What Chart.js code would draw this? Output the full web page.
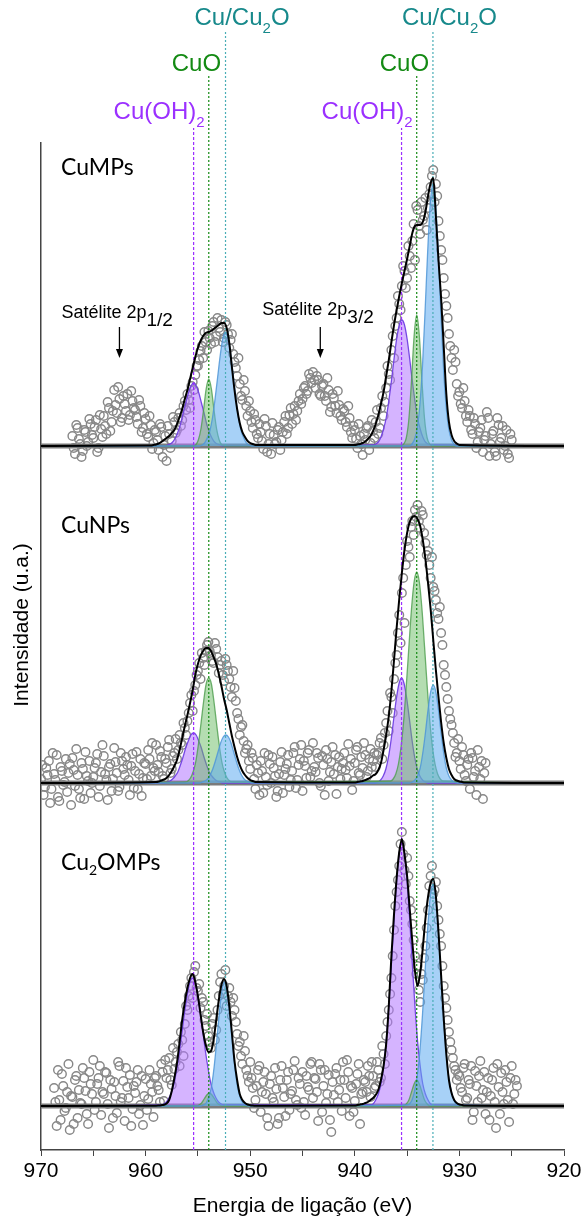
<!DOCTYPE html>
<html>
<head>
<meta charset="utf-8">
<script src="https://cdn.jsdelivr.net/npm/chart.js@4.4.1/dist/chart.umd.min.js"></script>
<style>
  html, body { margin: 0; padding: 0; background: #fff; }
  #xps { display: block; }
</style>
</head>
<body>
<canvas id="xps" width="581" height="1220" style="width:581px;height:1220px"></canvas>
<script>
// Cu 2p XPS spectra, three stacked samples, intensities in a.u. above each baseline
const eStep = 0.25
const panelNames = ['CuMPs', 'CuNPs', 'Cu2OMPs']
const panelBase = [704, 367, 44]
const tickLabels = [970, 960, 950, 940, 930, 920]

// reference binding energies (eV) for 2p1/2 and 2p3/2
const cuOH2Lines = [955.41, 935.53]
const cuOLines = [953.96, 934.08]
const cuLines = [952.36, 932.53]
const satelliteE = [962.5, 943.3]

// measured points: two interleaved scans (start energy, then one value every 0.25 eV going down)
const cumpsStart = [967.0, 966.875]
const cumpsCounts = [
  10, -8, 18, 2, -5, 14, 4, 22, 8, 26, -2, 17, 30, 12, 38, 24,
  56, 33, 47, 28, 42, 52, 31, 45, 36, 22, 40, 18, 27, 9, 21, 3,
  14, -4, 19, 1, -15, 12, 5, 24, 16, 33, 26, 45, 52, 38, 64, 71,
  80, 95, 88, 104, 115, 102, 124, 110, 118, 126, 108, 121, 98, 112, 84, 70,
  62, 46, 55, 30, 35, 18, 26, 8, 14, -3, 20, 2, -8, 11, 4, 19,
  6, 24, 12, 31, 22, 40, 35, 52, 47, 60, 55, 68, 74, 58, 66, 50,
  62, 45, 56, 39, 48, 33, 41, 26, 35, 19, 28, 8, 16, -2, 10, -9,
  6, 20, 3, 15, 24, 12, 38, 30, 58, 72, 96, 88, 128, 142, 160, 175,
  168, 190, 205, 186, 236, 212, 226, 248, 238, 259, 276, 262, 225, 196, 168, 140,
  112, 88, 96, 62, 54, 38, 45, 24, 30, 12, 22, 4, 18, -6, 10, 28,
  2, 15, -10, 21, 8, -4, 16, -12, 6
]
const cumpsCounts2 = [
  -2, 21, 7, -11, 16, 0, 27, 11, 19, -6, 31, 9, 20, 44, 15, 35,
  41, 59, 24, 50, 35, 26, 55, 38, 29, 46, 14, 33, 12, 30, -3, 16,
  6, 22, -11, 10, 20, -2, 29, 13, 28, 20, 40, 36, 46, 60, 56, 80,
  86, 100, 114, 96, 108, 120, 104, 128, 114, 104, 124, 112, 106, 92, 78, 88,
  50, 66, 40, 45, 24, 32, 12, 22, 5, 27, -6, 12, 23, 2, 16, -4,
  14, 30, 18, 38, 32, 26, 45, 42, 58, 52, 72, 63, 66, 70, 52, 60,
  50, 68, 34, 52, 40, 55, 30, 37, 24, 40, 14, 20, 7, 22, 2, 12,
  18, -4, 26, 8, 36, 18, 50, 44, 80, 66, 110, 120, 150, 136, 180, 158,
  200, 178, 222, 240, 220, 244, 230, 216, 252, 270, 244, 250, 210, 186, 152, 128,
  100, 76, 84, 50, 42, 58, 30, 36, 16, 28, -2, 14, 26, 6, 34, -10,
  12, -6, 28, 4, 20, 0, -8, 12
]
const cunpsStart = [970.0, 969.875]
const cunpsCounts = [
  4, -12, 15, 22, -6, 9, 28, -18, 12, 1, -9, 19, 25, -3, 8, -15,
  14, 31, 2, -10, 6, 20, -14, 11, 27, 3, 16, -8, 35, 10, -4, 22,
  8, 18, -12, 29, 12, -6, 24, 5, 19, 33, 7, 15, 38, 11, 26, 4,
  20, 43, 14, 30, 24, 48, 38, 55, 62, 80, 72, 98, 112, 104, 125, 132,
  141, 128, 120, 134, 110, 122, 102, 118, 104, 86, 95, 70, 48, 58, 30, 38,
  14, 25, -6, 10, 22, -10, 6, 28, 0, 15, -14, 9, 31, 8, 19, -4,
  12, 36, 3, 24, -8, 17, 30, 6, 40, 11, 25, -3, 18, 33, 2, 21,
  9, -11, 26, 14, 30, 5, 17, -7, 20, 36, 8, 15, 28, 12, 34, 22,
  16, 30, 45, 38, 60, 52, 86, 104, 128, 168, 190, 160, 242, 226, 262, 273,
  278, 255, 268, 240, 232, 205, 196, 183, 164, 150, 118, 96, 72, 58, 40, 30,
  22, 36, 8, 18, -6, 25, 12, 33, 4, -16, 20
]
const cunpsCounts2 = [
  18, -4, 8, -20, 30, 3, -14, 16, -2, 24, 10, -22, 13, 34, -6, 20,
  -16, 7, 22, 0, 15, 29, -3, 38, 9, -17, 19, 4, 21, -8, 30, 14,
  26, 3, 17, -5, 31, 9, -13, 20, 4, 24, 40, 12, 18, 32, 7, 24,
  36, 10, 27, 44, 33, 40, 60, 48, 70, 88, 92, 108, 120, 130, 118, 138,
  132, 122, 140, 126, 118, 108, 124, 112, 96, 112, 82, 64, 56, 42, 34, 22,
  30, 4, 18, -12, 12, 30, -2, 19, 26, 7, -8, 21, -10, 14, 28, 3,
  30, -5, 18, 38, 22, 5, 33, 12, 16, 30, 0, 27, -12, 24, 11, 36,
  28, 16, 4, 20, 13, 39, 24, 2, 33, 10, 26, 40, 6, 24, 16, 30,
  28, 40, 24, 50, 72, 90, 70, 120, 150, 140, 205, 218, 236, 256, 248, 266,
  262, 272, 250, 228, 218, 226, 192, 170, 176, 138, 108, 84, 64, 50, 26, 44,
  14, 28, 2, 24, 30, 6, -12, 16, 22, 10
]
const cu2oStart = [968.75, 968.625]
const cu2oCounts = [
  18, -20, 6, 32, -5, 14, -24, 9, 26, -12, 3, 38, 15, -18, 22,
  46, 4, 28, -9, 12, 33, -22, 17, 24, -7, 40, 8, -15, 19, 31, -3,
  13, 36, 1, -19, 27, 7, 22, -11, 30, 16, 42, 5, 28, 48, 21, 37,
  54, 40, 66, 82, 96, 120, 108, 140, 115, 98, 104, 80, 70, 58, 88, 76,
  110, 132, 120, 100, 118, 90, 96, 72, 64, 42, 55, 30, 44, 18, 6, 36,
  -6, 24, 12, -20, 30, 4, 17, -12, 40, 9, 26, -4, 15, 45, 1, 22,
  34, -9, 19, 42, 8, 27, -15, 36, 20, 3, 31, -26, 11, 38, 16, -5,
  26, 46, -10, 18, 5, 32, -18, 14, 24, 40, 9, 30, 20, 36, 28, 52,
  70, 96, 128, 176, 214, 240, 274, 236, 248, 205, 182, 150, 140, 104, 126, 160,
  196, 230, 212, 224, 186, 160, 120, 98, 74, 56, 40, 26, 30, 14, 42, 8,
  22, -14, 35, 4, 45, 16, -8, 28, 10, 38, -22, 19, 33, 2, 24, -16,
  40, 12, 20
]
const cu2oCounts2 = [
  4, 36, -14, 20, -2, 42, 10, -18, 30, 16, 2, 28, -8, 34, 12,
  -4, 22, 40, 14, 34, 2, 26, -12, 10, 44, 4, 25, 38, 8, -20, 20,
  24, -8, 30, 10, -4, 36, 14, 28, 20, 4, 34, 46, 36, 26, 58, 44,
  62, 74, 50, 100, 110, 128, 134, 118, 122, 108, 86, 92, 64, 82, 66, 96,
  124, 112, 136, 110, 104, 108, 84, 60, 50, 70, 36, 24, 28, -2, 20, 40,
  14, 34, -12, 22, 8, 38, -18, 26, 18, -10, 34, 12, 36, 6, 28, -2,
  4, 30, 16, 44, 28, 14, 42, -6, 36, 12, -14, 24, 32, 4, 26, 44,
  8, 34, 20, -6, 22, 42, 12, 26, 14, 30, 44, 18, 44, 24, 60, 42,
  84, 112, 150, 200, 226, 262, 252, 222, 230, 196, 166, 132, 116, 132, 148, 178,
  220, 240, 216, 200, 172, 140, 108, 86, 64, 48, 36, 32, 18, 38, 6, 26,
  40, -6, 20, 30, 8, 34, 14, -14, 26, 4, 42, -8, 14, 36, 6, 28,
  2, 26
]

// fitted envelopes: [start energy, values]
const cumpsFit = [
  [959.5, [0.5, 1, 1.5, 2.5, 4, 6, 8, 10, 13, 16, 22, 29, 37, 47, 56, 67, 78, 89, 98, 105,
    110, 113, 114, 115, 117, 119, 121, 123, 123, 118, 103, 79, 56, 37, 23, 14, 9, 5, 3, 2, 1]],
  [940, [1, 1.5, 2, 3, 4.5, 7, 10, 15, 22, 31, 42, 54, 70, 86, 104, 121, 136, 150, 163, 175,
    187, 200, 213, 220, 221, 221, 224, 234, 250, 263, 268, 230, 186, 148, 100, 52, 24, 11, 5, 2.5, 1]]
]
const cunpsFit = [
  [959, [1, 1.5, 2.5, 3.5, 5, 8, 12, 17, 23, 33, 45, 57, 68, 80, 93, 108, 119, 127, 132, 135,
    135, 132, 126, 119, 109, 97, 84, 73, 60, 47, 36, 26, 18, 12, 8, 5, 3, 2, 1]],
  [940, [0.5, 1, 1.5, 2, 3, 4, 5.5, 7.5, 9, 13, 20, 33, 48, 67, 92, 123, 155, 184, 210, 233,
    250, 261, 266, 267, 264, 257, 243, 224, 200, 174, 143, 113, 86, 61, 40, 25, 14, 8, 4, 2.5, 1.5, 1, 0.5]]
]
const cu2oFit = [
  [959, [0.3, 0.5, 0.8, 1.2, 2.5, 6, 15, 28, 43, 64, 86, 104, 118, 128, 132, 124, 110, 92, 74, 61,
    54, 55, 66, 86, 106, 121, 127, 120, 100, 73, 45, 26, 12, 6, 3, 1.5, 0.8, 0.4, 0.2]],
  [940, [0.5, 1, 1.5, 2, 3, 4, 6, 8, 11, 16, 26, 40, 62, 100, 150, 192, 228, 254, 267, 252,
    230, 197, 164, 135, 120, 133, 158, 187, 209, 223, 227, 210, 174, 131, 88, 52, 26, 13, 6, 3, 1.5, 1, 0.5]]
]

// fitted components: Cu(OH)2, CuO, Cu/Cu2O
const cumpsOH = [
  [958.16, [0, 1, 2, 4, 8, 14, 22, 33, 43, 53, 60, 63, 60, 53, 43, 33, 22, 14, 8, 4, 2, 1, 0]],
  [938.25, [1, 2, 4, 9, 17, 28, 45, 65, 87, 107, 121, 126, 121, 107, 87, 65, 45, 28, 17, 9, 4, 2, 1]]
]
const cumpsCuO = [
  [955.46, [0, 1, 6, 17, 36, 57, 67, 57, 36, 17, 6, 1, 0]],
  [935.58, [0, 2, 8, 27, 65, 110, 131, 110, 65, 27, 8, 2, 0]]
]
const cumpsCu = [
  [954.86, [0, 1, 3, 8, 15, 28, 47, 69, 91, 108, 114, 108, 91, 69, 47, 28, 15, 8, 3, 1, 0]],
  [934.78, [0, 2, 7, 18, 41, 80, 135, 195, 243, 262, 243, 195, 135, 80, 41, 18, 7, 2, 0]]
]
const cunpsOH = [
  [958.17, [0, 1, 2, 4, 7, 11, 18, 26, 35, 42, 48, 50, 48, 42, 35, 26, 18, 11, 7, 4, 2, 1, 0]],
  [938.03, [0, 1, 3, 7, 14, 26, 43, 64, 84, 99, 105, 99, 84, 64, 43, 26, 14, 7, 3, 1, 0]]
]
const cunpsCuO = [
  [956.21, [1, 2, 5, 11, 21, 38, 59, 81, 99, 105, 99, 81, 59, 38, 21, 11, 5, 2, 1]],
  [936.58, [2, 4, 9, 19, 36, 62, 97, 136, 174, 201, 211, 201, 174, 136, 97, 62, 36, 19, 9, 4, 2]]
]
const cunpsCu = [
  [954.83, [0, 1, 2, 4, 8, 14, 22, 31, 40, 46, 48, 46, 40, 31, 22, 14, 8, 4, 2, 1, 0]],
  [934.75, [0, 1, 3, 7, 15, 30, 50, 73, 91, 98, 91, 73, 50, 30, 15, 7, 3, 1, 0]]
]
const cu2oOH = [
  [958.52, [1, 2, 4, 8, 14, 23, 37, 54, 74, 94, 111, 124, 128, 124, 111, 94, 74, 54, 37, 23, 14, 8, 4, 2, 1]],
  [938.5, [1, 2, 6, 12, 22, 40, 65, 100, 142, 186, 225, 253, 263, 253, 225, 186, 142, 100, 65, 40, 22, 12, 6, 2, 1]]
]
const cu2oCuO = [
  [955.15, [0, 1, 3, 7, 11, 13, 11, 7, 3, 1, 0]],
  [935.33, [0, 2, 6, 14, 22, 26, 22, 14, 6, 2, 0]]
]
const cu2oCu = [
  [954.71, [0, 1, 3, 9, 19, 38, 64, 92, 115, 124, 115, 92, 64, 38, 19, 9, 3, 1, 0]],
  [935.03, [1, 2, 6, 15, 30, 55, 91, 135, 178, 210, 222, 210, 178, 135, 91, 55, 30, 15, 6, 2, 1]]
]

const scatterSets = [
  [cumpsStart, [cumpsCounts, cumpsCounts2]],
  [cunpsStart, [cunpsCounts, cunpsCounts2]],
  [cu2oStart, [cu2oCounts, cu2oCounts2]]
]
const fitSets = [cumpsFit, cunpsFit, cu2oFit]
const compSets = [
  [cumpsOH, cumpsCuO, cumpsCu],
  [cunpsOH, cunpsCuO, cunpsCu],
  [cu2oOH, cu2oCuO, cu2oCu]
]

// styling
const arial = "'Liberation Sans', Arial, sans-serif"
const teal = '#17898b', green = '#138a13', violet = '#9b30ff'
const compFill = ['rgba(178, 118, 255, 0.55)', 'rgba(105, 188, 100, 0.5)', 'rgba(95, 172, 240, 0.55)']
const compLine = ['rgba(112, 64, 226, 0.95)', 'rgba(78, 158, 78, 0.8)', 'rgba(80, 150, 215, 0.85)']
const refColors = [violet, green, '#4aaeb6']
const refDash = [[3, 2], [2, 2], [2, 2]]
const refTop = [1022, 1075, 1120]

const toPts = (start, vals, base) => vals.map((v, i) => ({ x: start - i * eStep, y: base + v }))
function fitCurve(wins, base) {
  const pts = [{ x: 970, y: base }]
  wins.forEach(([s, v]) => pts.push(...toPts(s, v, base)))
  pts.push({ x: 920, y: base })
  return pts
}

const datasets = []
panelBase.forEach((base, p) => {
  const [starts, scans] = scatterSets[p]
  datasets.push({
    data: scans.flatMap((vals, k) => toPts(starts[k], vals, base)),
    showLine: false,
    pointStyle: 'circle',
    pointRadius: 4.3,
    pointBorderWidth: 1.4,
    pointBorderColor: '#878787',
    pointBackgroundColor: 'rgba(0,0,0,0)',
    order: 6
  })
  datasets.push({
    data: [{ x: 970, y: base }, { x: 920, y: base }],
    showLine: true, pointRadius: 0,
    borderColor: '#7b7b7b', borderWidth: 5,
    order: 5
  })
  compSets[p].forEach((comp, c) => {
    datasets.push({
      data: fitCurve(comp, base),
      showLine: true, pointRadius: 0,
      cubicInterpolationMode: 'monotone',
      borderColor: compLine[c], borderWidth: 1.3,
      backgroundColor: compFill[c],
      fill: { value: base },
      order: 4 - c * 0.1
    })
  })
  datasets.push({
    data: fitCurve(fitSets[p], base),
    showLine: true, pointRadius: 0,
    cubicInterpolationMode: 'monotone',
    borderColor: '#000', borderWidth: 2,
    order: 1
  })
})
const refGroups = [cuOH2Lines, cuOLines, cuLines]
refGroups.forEach((lines, k) => {
  lines.forEach(e => {
    datasets.push({
      data: [{ x: e, y: 0 }, { x: e, y: refTop[k] }],
      showLine: true, pointRadius: 0,
      borderColor: refColors[k], borderWidth: 1.2, borderDash: refDash[k],
      clip: false,
      order: 2
    })
  })
})

function rich(ctx, parts, left, base, color, family) {
  let cx = left
  ctx.fillStyle = color
  parts.forEach(([t, size, dy]) => {
    ctx.font = size + 'px ' + family
    ctx.fillText(t, cx, base + (dy || 0))
    cx += ctx.measureText(t).width
  })
}

const annotations = {
  id: 'annotations',
  afterDraw(chart) {
    const { ctx, scales: { x } } = chart
    ctx.save()
    ctx.textBaseline = 'alphabetic'
    ctx.textAlign = 'left'
    for (let i = 0; i < 2; i++) {
      rich(ctx, [['Cu/Cu', 24], ['2', 15, 8], ['O', 24]], x.getPixelForValue(cuLines[i]) - 31, 25, teal, arial)
      rich(ctx, [['CuO', 24]], x.getPixelForValue(cuOLines[i]) - 37, 71, green, arial)
      rich(ctx, [['Cu(OH)', 24], ['2', 15, 8]], x.getPixelForValue(cuOH2Lines[i]) - 80, 119, violet, arial)
    }
    const nameFont = "Lato, 'Open Sans', sans-serif"
    const nameBase = [175, 533, 870]
    rich(ctx, [[panelNames[0], 23]], 61, nameBase[0], '#000', nameFont)
    rich(ctx, [[panelNames[1], 23]], 61, nameBase[1], '#000', nameFont)
    rich(ctx, [['Cu', 23], ['2', 14, 5], ['OMPs', 23]], 61, nameBase[2], '#000', nameFont)

    const satSub = ['1/2', '3/2']
    const satBase = [318, 315]
    satelliteE.forEach((e, i) => {
      const ax = x.getPixelForValue(e)
      rich(ctx, [['Satélite 2p', 18], [satSub[i], 19, 8]], ax - 58, satBase[i], '#000', arial)
      ctx.strokeStyle = '#000'
      ctx.lineWidth = 1.3
      ctx.beginPath()
      ctx.moveTo(ax, 327)
      ctx.lineTo(ax, 351)
      ctx.stroke()
      ctx.fillStyle = '#000'
      ctx.beginPath()
      ctx.moveTo(ax - 3.5, 349)
      ctx.lineTo(ax + 3.5, 349)
      ctx.lineTo(ax, 358)
      ctx.closePath()
      ctx.fill()
    })

    ctx.translate(22, 625)
    ctx.rotate(-Math.PI / 2)
    ctx.textAlign = 'center'
    ctx.textBaseline = 'middle'
    ctx.font = '21px ' + arial
    ctx.fillStyle = '#000'
    ctx.fillText('Intensidade (u.a.)', 0, 0)
    ctx.restore()
  }
}

Chart.defaults.font.family = arial
new Chart(document.getElementById('xps'), {
  type: 'scatter',
  data: { datasets },
  options: {
    responsive: false,
    animation: false,
    devicePixelRatio: 1,
    layout: { padding: { top: 143, right: 17, left: 0, bottom: 0 } },
    plugins: { legend: { display: false }, tooltip: { enabled: false } },
    scales: {
      x: {
        type: 'linear',
        reverse: true,
        min: 920,
        max: 970,
        afterFit: s => { s.height = 70; s.paddingLeft = 0; s.paddingRight = 0 },
        ticks: {
          stepSize: 5,
          autoSkip: false,
          maxRotation: 0,
          padding: 3,
          color: '#000',
          font: { size: 21 },
          callback: v => tickLabels.includes(v) ? String(v) : ''
        },
        grid: { display: true, drawOnChartArea: false, drawTicks: true, tickLength: 6, color: '#444', tickColor: '#444' },
        border: { display: true, color: '#444', width: 1.5 },
        title: { display: true, text: 'Energia de ligação (eV)', color: '#000', font: { size: 21 }, padding: { top: 0, bottom: 1 } }
      },
      y: {
        min: 0,
        max: 1007,
        afterFit: s => { s.width = 41 },
        ticks: { display: false },
        grid: { display: false },
        border: { display: true, color: '#444', width: 1.5 }
      }
    }
  },
  plugins: [annotations]
})
</script>
</body>
</html>
